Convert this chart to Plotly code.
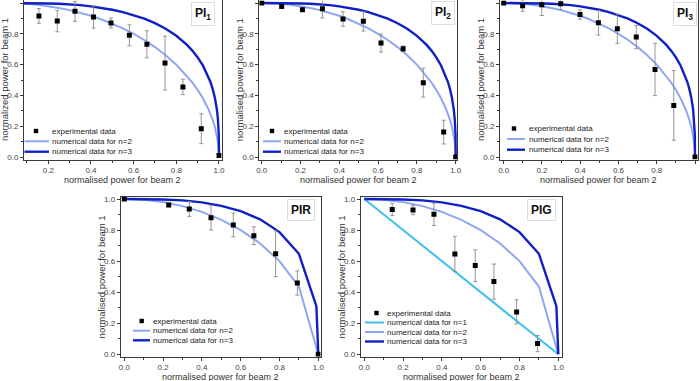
import plotly.graph_objects as go

# ---------------- data ----------------
# theoretical curves, finely sampled (PI1, PI2, PI3)
X_FINE = [0, 0.05, 0.1, 0.15, 0.2, 0.25, 0.3, 0.35, 0.4, 0.45, 0.5, 0.55, 0.6, 0.65, 0.7,
          0.75, 0.8, 0.85, 0.875, 0.9, 0.925, 0.95, 0.96, 0.97, 0.98, 0.99, 0.995, 0.999, 1.0]
N2_FINE = [1.0, 0.999, 0.995, 0.989, 0.980, 0.968, 0.954, 0.937, 0.917, 0.893, 0.866, 0.835,
           0.800, 0.760, 0.714, 0.661, 0.600, 0.527, 0.484, 0.436, 0.380, 0.312, 0.280, 0.243,
           0.199, 0.141, 0.100, 0.045, 0.0]
N3_FINE = [1.0, 1.0, 1.0, 0.999, 0.997, 0.995, 0.991, 0.986, 0.978, 0.969, 0.956, 0.941,
           0.922, 0.899, 0.869, 0.833, 0.787, 0.728, 0.691, 0.647, 0.593, 0.523, 0.487, 0.444,
           0.389, 0.310, 0.246, 0.144, 0.0]
# theoretical curves, coarsely sampled (PIR, PIG)
X_N2_COARSE = [0, 0.1, 0.2, 0.3, 0.4, 0.5, 0.6, 0.7, 0.8, 0.9, 1.0]
N2_COARSE = [1.0, 0.995, 0.980, 0.954, 0.917, 0.866, 0.800, 0.714, 0.600, 0.436, 0.0]
X_N3_COARSE = [0, 0.1, 0.2, 0.3, 0.4, 0.5, 0.6, 0.7, 0.8, 0.9, 0.99, 1.0]
N3_COARSE = [1.0, 1.0, 0.997, 0.991, 0.978, 0.956, 0.922, 0.869, 0.787, 0.647, 0.310, 0.0]
X_N1 = [0.0, 1.0]
N1 = [1.0, 0.0]

# experimental data
PI1_X = [0.156, 0.242, 0.325, 0.412, 0.494, 0.580, 0.662, 0.747, 0.831, 0.917, 1.0]
PI1_Y = [0.916, 0.883, 0.946, 0.909, 0.870, 0.790, 0.732, 0.610, 0.455, 0.184, 0.01]
PI1_E = [0.048, 0.070, 0.065, 0.072, 0.032, 0.068, 0.088, 0.175, 0.050, 0.097, 0.01]

PI2_X = [0.0, 0.103, 0.210, 0.313, 0.419, 0.524, 0.615, 0.729, 0.833, 0.938, 1.0]
PI2_Y = [1.0, 0.978, 0.957, 0.963, 0.896, 0.881, 0.740, 0.703, 0.483, 0.162, 0.0]
PI2_E = [0.0, 0.012, 0.010, 0.060, 0.047, 0.063, 0.058, 0.018, 0.094, 0.077, 0.0]

PI3_X = [0.0, 0.099, 0.199, 0.298, 0.399, 0.495, 0.594, 0.693, 0.791, 0.889, 1.0]
PI3_Y = [1.0, 0.983, 0.989, 0.996, 0.926, 0.872, 0.833, 0.779, 0.569, 0.335, 0.0]
PI3_E = [0.0, 0.037, 0.070, 0.040, 0.030, 0.080, 0.095, 0.075, 0.170, 0.226, 0.0]

PIR_X = [0.0, 0.229, 0.335, 0.447, 0.562, 0.668, 0.780, 0.892, 1.0]
PIR_Y = [1.0, 0.961, 0.936, 0.880, 0.833, 0.764, 0.648, 0.459, 0.0]
PIR_E = [0.0, 0.010, 0.048, 0.080, 0.077, 0.057, 0.148, 0.078, 0.0]

PIG_X = [0.144, 0.251, 0.359, 0.467, 0.572, 0.668, 0.785, 0.893]
PIG_Y = [0.933, 0.929, 0.901, 0.646, 0.571, 0.468, 0.273, 0.069]
PIG_E = [0.040, 0.030, 0.072, 0.113, 0.102, 0.113, 0.078, 0.052]

TICK_VALS = [0.0, 0.2, 0.4, 0.6, 0.8, 1.0]
PANEL_TITLES = ["<b>PI<sub>1</sub></b>", "<b>PI<sub>2</sub></b>", "<b>PI<sub>3</sub></b>",
                "<b>PIR</b>", "<b>PIG</b>"]
Y_TITLES = ["normalized power for beam 1"] + ["normalised power for beam 1"] * 4
X_TITLE = "normalised power for beam 2"
LEG_EXP = "experimental data"
LEG_N1 = "numerical data for n=1"
LEG_N2 = "numerical data for n=2"
LEG_N3 = "numerical data for n=3"

# ---------------- styles ----------------
W, H = 700, 381
C_N1 = "#3EBFF0"
C_N2 = "#8FA6F2"
C_N3 = "#1020C4"
C_ERR = "#8a8a8a"
FONT = "Liberation Sans, Arial, sans-serif"


def px(x):
    return x / W


def py(y):
    return 1 - y / H


# panel geometry in pixels: (left, right, top, bottom), x range, y range
TOP_YR = [-0.016, 1.017]
BOT_YR = [-0.0155, 1.0148]
panels = [
    dict(l=24, r=221.7, t=0.4, b=159.5, xr=[0.0861, 1.0127], yr=TOP_YR),
    dict(l=259.3, r=457.3, t=0.4, b=159.5, xr=[-0.0124, 1.0082], yr=TOP_YR),
    dict(l=500, r=697.7, t=0.4, b=159.5, xr=[-0.0193, 1.014], yr=TOP_YR),
    dict(l=120.7, r=320.5, t=196.7, b=356.7, xr=[-0.0185, 1.0113], yr=BOT_YR),
    dict(l=360.7, r=561.7, t=196.7, b=356.7, xr=[-0.0186, 1.0175], yr=BOT_YR),
]

fig = go.Figure()


def add_curve(i, xs, ys, color, width):
    s = "" if i == 0 else str(i + 1)
    fig.add_trace(go.Scatter(x=xs, y=ys, mode="lines", xaxis="x" + s, yaxis="y" + s,
                             line=dict(color=color, width=width), showlegend=False,
                             hoverinfo="skip"))


def add_exp(i, xs, ys, es):
    s = "" if i == 0 else str(i + 1)
    fig.add_trace(go.Scatter(x=xs, y=ys, mode="markers", xaxis="x" + s, yaxis="y" + s,
                             marker=dict(symbol="square", size=5, color="black"),
                             error_y=dict(type="data", array=es, visible=True, color=C_ERR,
                                          thickness=0.9, width=2),
                             showlegend=False))


# PI1, PI2, PI3
for i, (xs, ys, es) in enumerate([(PI1_X, PI1_Y, PI1_E), (PI2_X, PI2_Y, PI2_E),
                                  (PI3_X, PI3_Y, PI3_E)]):
    add_curve(i, X_FINE, N2_FINE, C_N2, 2)
    add_curve(i, X_FINE, N3_FINE, C_N3, 2.4)
    add_exp(i, xs, ys, es)
# PIR
add_curve(3, X_N2_COARSE, N2_COARSE, C_N2, 2)
add_curve(3, X_N3_COARSE, N3_COARSE, C_N3, 2.4)
add_exp(3, PIR_X, PIR_Y, PIR_E)
# PIG
add_curve(4, X_N1, N1, C_N1, 2)
add_curve(4, X_N2_COARSE, N2_COARSE, C_N2, 2)
add_curve(4, X_N3_COARSE, N3_COARSE, C_N3, 2.4)
add_exp(4, PIG_X, PIG_Y, PIG_E)

layout = dict(width=W, height=H, margin=dict(l=0, r=0, t=0, b=0, autoexpand=False),
              paper_bgcolor="white", plot_bgcolor="white", showlegend=False,
              font=dict(family=FONT, size=8, color="#333"))

axis_common = dict(showgrid=False, zeroline=False, showline=True, linecolor="#3a3a3a",
                   linewidth=1, mirror=True, ticks="outside", ticklen=3, tickwidth=1,
                   tickcolor="#3a3a3a", tickvals=TICK_VALS, tickformat=".1f",
                   automargin=False,
                   tickfont=dict(size=8, color="#444"),
                   minor=dict(ticks="outside", ticklen=2, dtick=0.1, tick0=0,
                              tickcolor="#3a3a3a"))

annotations = []
shapes = []
for i, p in enumerate(panels):
    s = "" if i == 0 else str(i + 1)
    xa = dict(axis_common, domain=[px(p["l"]), px(p["r"])], range=p["xr"],
              anchor="y" + s)
    ya = dict(axis_common, domain=[py(p["b"]), py(p["t"])], range=p["yr"],
              anchor="x" + s)
    layout["xaxis" + s] = xa
    layout["yaxis" + s] = ya
    # axis titles
    annotations.append(dict(text=X_TITLE, xref="paper", yref="paper",
                            x=px((p["l"] + p["r"]) / 2), y=py(p["b"] + 20),
                            showarrow=False, font=dict(size=9, color="#333"),
                            xanchor="center", yanchor="middle"))
    annotations.append(dict(text=Y_TITLES[i], xref="paper", yref="paper",
                            x=px(p["l"] - 19), y=py((p["t"] + p["b"]) / 2),
                            textangle=-90, showarrow=False, font=dict(size=9.5, color="#333"),
                            xanchor="center", yanchor="middle"))

# panel labels (x center px, y center px)
label_pos = [(203, 14), (443, 13), (685, 13.5), (301, 209.5), (541.5, 210)]
for t, (lx, ly) in zip(PANEL_TITLES, label_pos):
    annotations.append(dict(text=t, xref="paper", yref="paper", x=px(lx), y=py(ly),
                            showarrow=False, font=dict(size=12, color="#111"),
                            xanchor="center", yanchor="middle", bgcolor="white",
                            bordercolor="#dddddd", borderwidth=1, borderpad=3))

# manual legends: (line start, line end, marker x, text x, row y list, entries)
legends = [
    (24.5, 49, 36, 50, [131, 141.3, 151.7], [(None, LEG_EXP), (C_N2, LEG_N2), (C_N3, LEG_N3)]),
    (263, 281, 272, 282, [131, 141.3, 151.7], [(None, LEG_EXP), (C_N2, LEG_N2), (C_N3, LEG_N3)]),
    (507, 525, 514, 526.5, [128.5, 139, 149.7], [(None, LEG_EXP), (C_N2, LEG_N2), (C_N3, LEG_N3)]),
    (133, 150, 141.7, 150.7, [321, 330.7, 340.3], [(None, LEG_EXP), (C_N2, LEG_N2), (C_N3, LEG_N3)]),
    (365, 384, 376.5, 385, [313, 322.5, 332, 341.5],
     [(None, LEG_EXP), (C_N1, LEG_N1), (C_N2, LEG_N2), (C_N3, LEG_N3)]),
]
for (x0, x1, mx, tx, rows, entries) in legends:
    for ry, (col, txt) in zip(rows, entries):
        if col is None:
            shapes.append(dict(type="rect", xref="paper", yref="paper",
                               x0=px(mx - 2.2), x1=px(mx + 2.2), y0=py(ry + 2.2), y1=py(ry - 2.2),
                               fillcolor="black", line=dict(width=0)))
        else:
            shapes.append(dict(type="line", xref="paper", yref="paper",
                               x0=px(x0), x1=px(x1), y0=py(ry), y1=py(ry),
                               line=dict(color=col, width=2.4 if col == C_N3 else 2)))
        annotations.append(dict(text=txt, xref="paper", yref="paper", x=px(tx), y=py(ry),
                                showarrow=False, font=dict(size=8, color="#222"),
                                xanchor="left", yanchor="middle"))

layout["annotations"] = annotations
layout["shapes"] = shapes
fig.update_layout(**layout)
fig.write_html("out.html", config={"responsive": False, "displayModeBar": False},
               post_script="document.body.style.margin='0';document.body.style.overflow='hidden';")
